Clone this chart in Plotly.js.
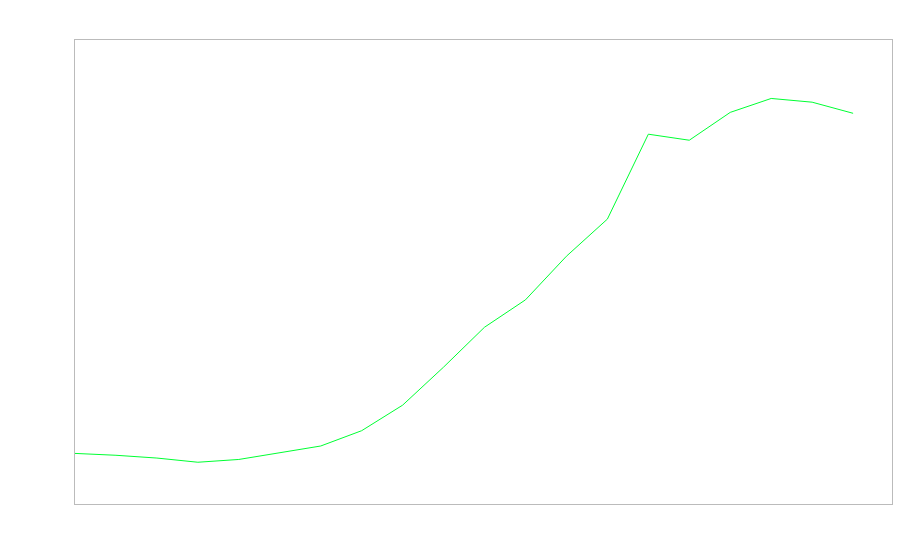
<!DOCTYPE html>
<html>
<head>
<meta charset="utf-8">
<script src="https://cdn.plot.ly/plotly-3.0.1.min.js"></script>
<style>html,body{margin:0;padding:0;background:#fff;}#chart{width:900px;height:560px;}</style>
</head>
<body>
<div id="chart"></div>
<script>
const xValues = [0,1,2,3,4,5,6,7,8,9,10,11,12,13,14,15,16,17,18,19];
const yValues = [10.9,10.5,9.9,9.0,9.6,11.0,12.5,15.8,21.3,29.5,38.1,44.0,53.4,61.4,79.7,78.4,84.4,87.4,86.6,84.2];

const trace = {
  x: xValues,
  y: yValues,
  type: 'scatter',
  mode: 'lines',
  line: {color: '#00ff33', width: 1},
  hoverinfo: 'none'
};

const axisCommon = {
  showgrid: false,
  zeroline: false,
  showticklabels: false,
  ticks: '',
  showline: true,
  mirror: true,
  linecolor: '#bbbbbb',
  linewidth: 1
};

const layout = {
  width: 900,
  height: 560,
  margin: {l: 75, r: 8, t: 40, b: 56},
  paper_bgcolor: '#ffffff',
  plot_bgcolor: '#ffffff',
  showlegend: false,
  xaxis: Object.assign({range: [0, 19.95]}, axisCommon),
  yaxis: Object.assign({range: [0, 100]}, axisCommon)
};

Plotly.newPlot('chart', [trace], layout, {displayModeBar: false, staticPlot: true});
</script>
</body>
</html>
